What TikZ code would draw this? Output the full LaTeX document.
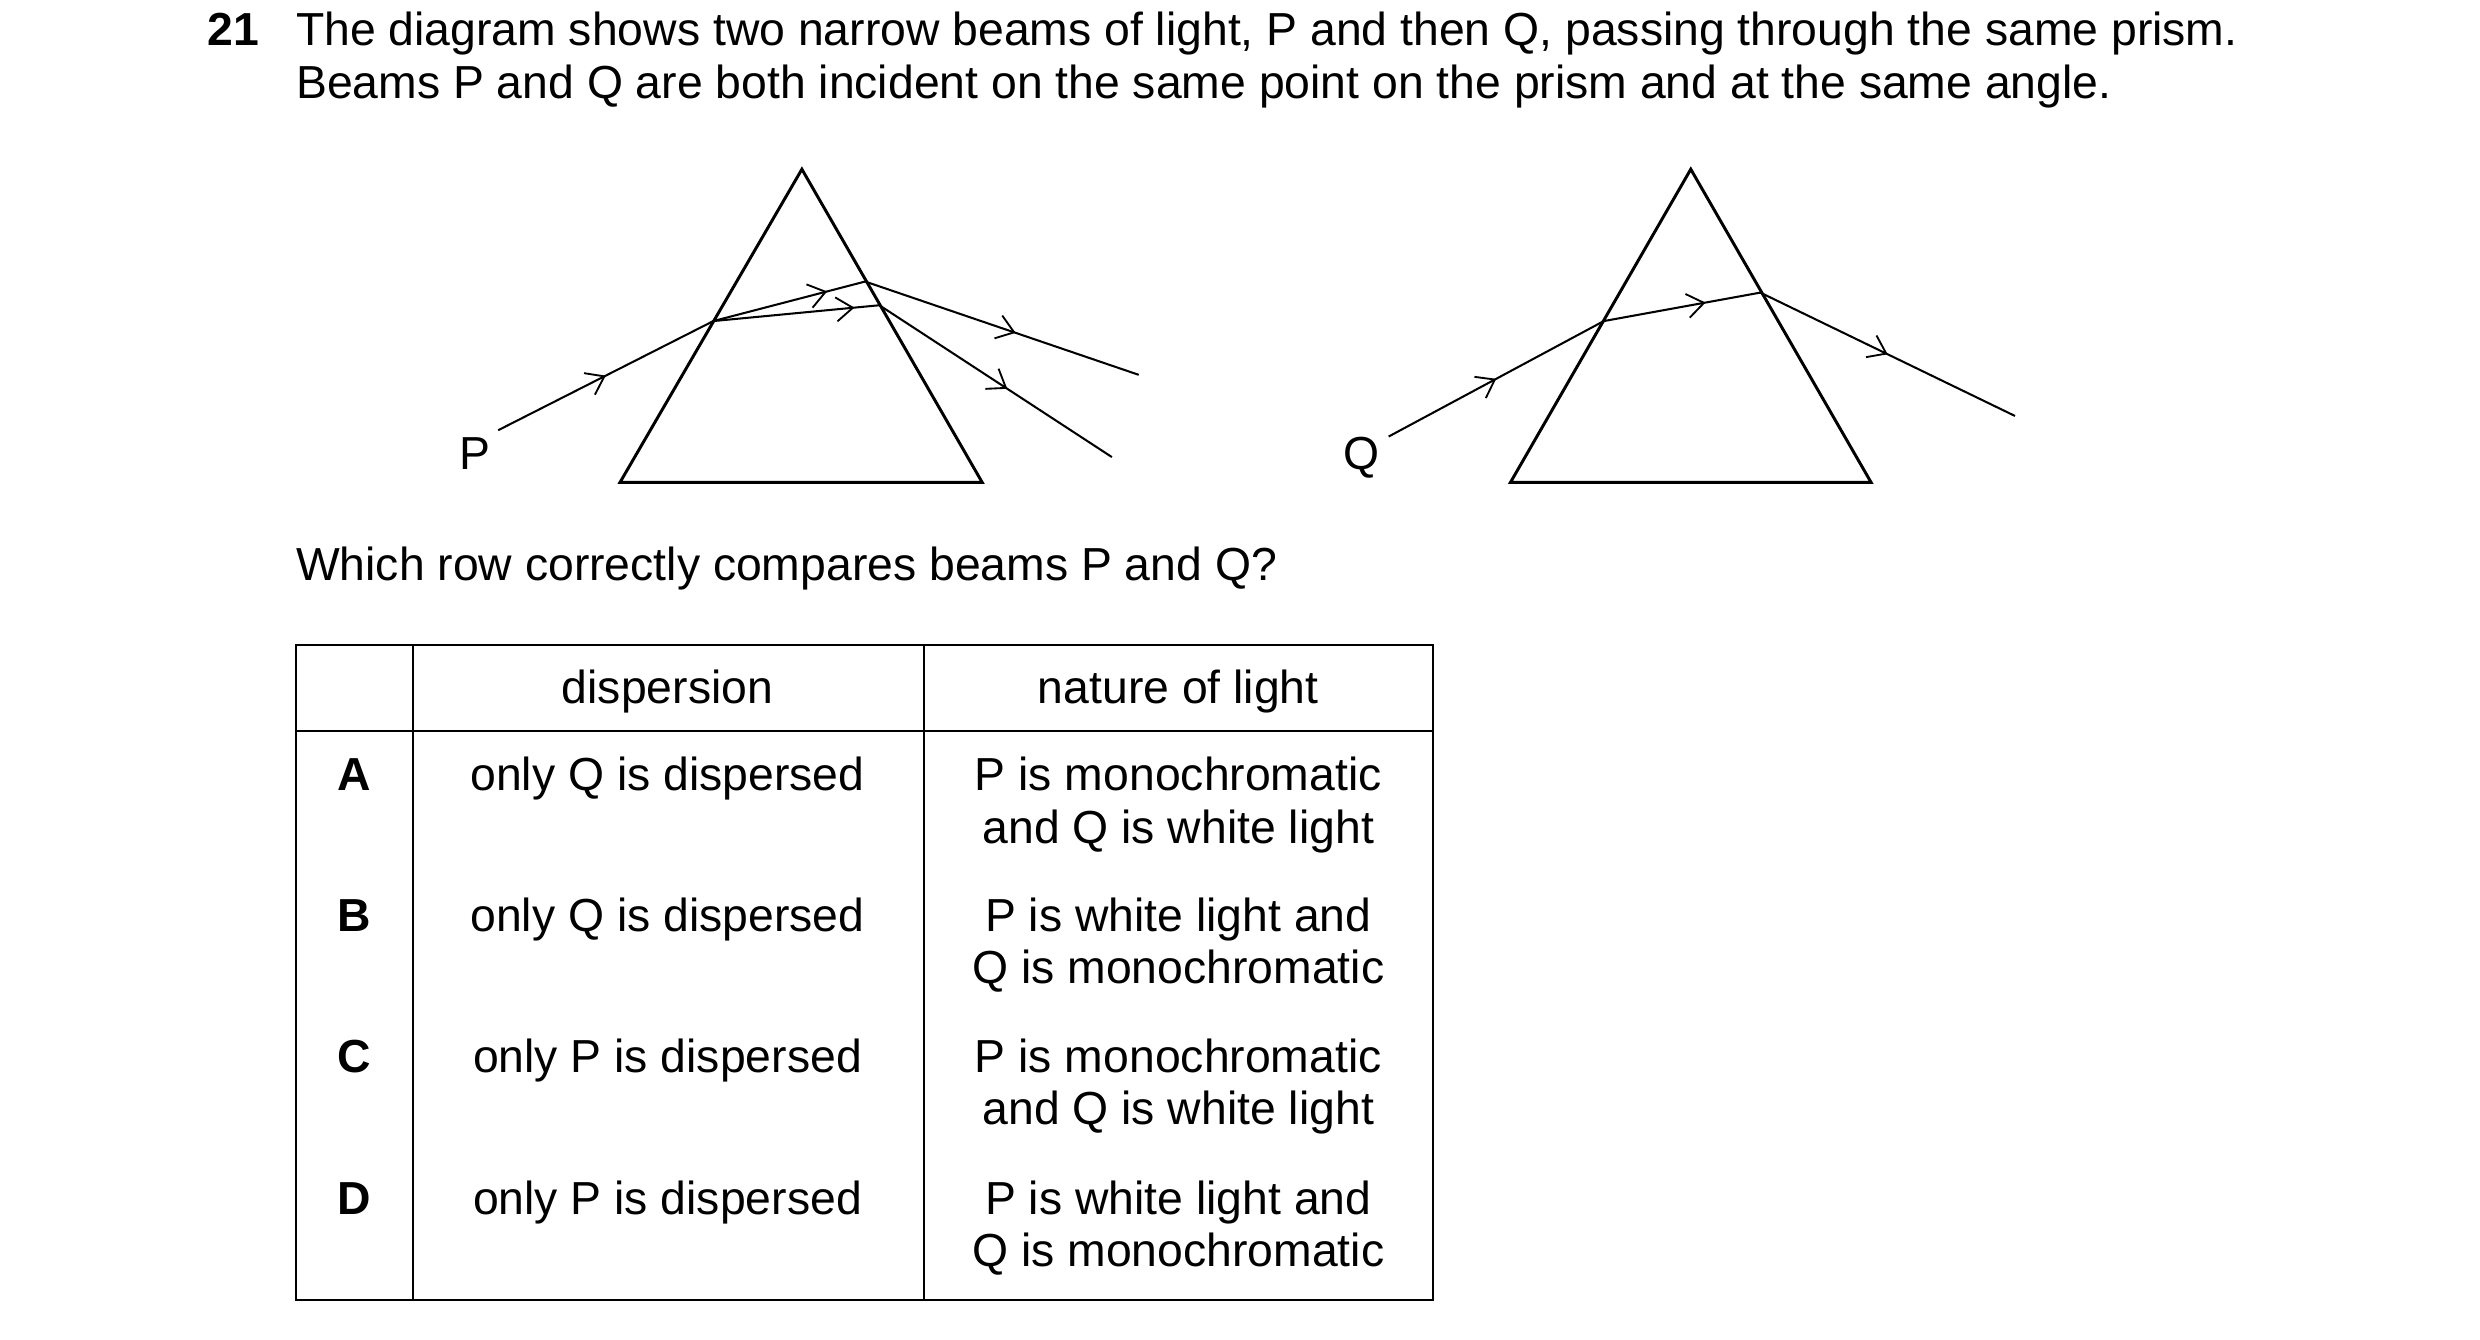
\documentclass[tikz,border=0pt]{standalone}
\usepackage{fontspec}
\setmainfont{Liberation Sans}
\usetikzlibrary{arrows.meta,decorations.markings}
\begin{document}
\begin{tikzpicture}[x=0.03cm,y=-0.03cm,
  txt/.style={font=\fontsize{25}{29}\selectfont,inner sep=0},
  ray/.style={line width=1.1pt},
  prism/.style={line width=1.6pt,line join=miter},
  mark/.style={postaction={decorate,decoration={markings,mark=at position #1 with {\arrow[line width=1pt]{Straight Barb[length=9pt,width=13pt]}}}}},
  grid/.style={line width=1.1pt}]
\useasboundingbox (0,0) rectangle (1568,847.2);
% title
\node[txt,anchor=base west,font=\fontsize{25}{29}\selectfont\bfseries] (num) at (131,29) {21};
\node[txt,anchor=base west] (t1) at (187,29) {The diagram shows two narrow beams of light, P and then Q, passing through the same prism.};
\node[txt,anchor=base west] (t2) at (187,62) {Beams P and Q are both incident on the same point on the prism and at the same angle.};
% prism P
\coordinate (pa) at (507,107); \coordinate (pb) at (392,305); \coordinate (pc) at (621,305);
\draw[prism] (pa) -- (pb) -- (pc) -- cycle;
\coordinate (p0) at (315,272); \coordinate (p1) at (451,203);
\coordinate (p2) at (547,178); \coordinate (p3) at (556,193);
\coordinate (p4) at (720,237); \coordinate (p5) at (703,289);
\draw[ray,mark=0.5] (p0) -- (p1);
\draw[ray,mark=0.75] (p1) -- (p2);
\draw[ray,mark=0.85] (p1) -- (p3);
\draw[ray,mark=0.55] (p2) -- (p4);
\draw[ray,mark=0.55] (p3) -- (p5);
\node[txt,anchor=base] (P) at (300,297) {P};
% prism Q
\coordinate (qa) at (1069,107); \coordinate (qb) at (955,305); \coordinate (qc) at (1183,305);
\draw[prism] (qa) -- (qb) -- (qc) -- cycle;
\coordinate (q0) at (878,276); \coordinate (q1) at (1014,203);
\coordinate (q2) at (1113,185); \coordinate (q3) at (1274,263);
\draw[ray,mark=0.5] (q0) -- (q1);
\draw[ray,mark=0.65] (q1) -- (q2);
\draw[ray,mark=0.5] (q2) -- (q3);
\node[txt,anchor=base] (Q) at (861,297) {Q};
% question
\node[txt,anchor=base west] (qq) at (187,367) {Which row correctly compares beams P and Q?};
% table
\draw[grid] (187,408) rectangle (906,822);
\draw[grid] (187,462) -- (906,462);
\draw[grid] (261,408) -- (261,822);
\draw[grid] (584,408) -- (584,822);
\node[txt,anchor=base] (h1) at (422,445) {dispersion};
\node[txt,anchor=base] (h2) at (745,445) {nature of light};
\foreach \L/\y/\d/\a/\b in {A/500/only Q is dispersed/P is monochromatic/and Q is white light,
  B/589/only Q is dispersed/P is white light and/Q is monochromatic,
  C/678/only P is dispersed/P is monochromatic/and Q is white light,
  D/768/only P is dispersed/P is white light and/Q is monochromatic}{
  \node[txt,anchor=base,font=\fontsize{25}{29}\selectfont\bfseries] (l\L) at (224,\y) {\L};
  \node[txt,anchor=base] (d\L) at (422,\y) {\d};
  \node[txt,anchor=base] (n\L) at (745,\y) {\a};
  \node[txt,anchor=base] (m\L) at (745,\y+33) {\b};
}
\end{tikzpicture}
\end{document}
